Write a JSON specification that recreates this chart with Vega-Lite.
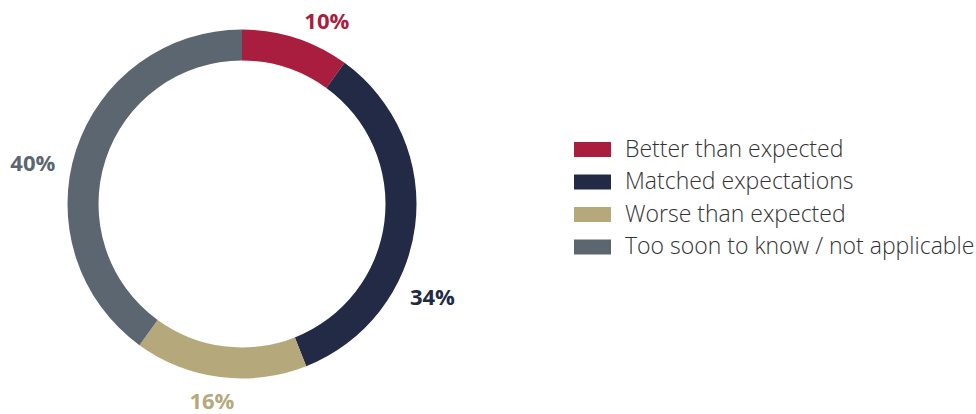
{
  "$schema": "https://vega.github.io/schema/vega-lite/v6.json",
  "width": 484,
  "height": 408,
  "autosize": {"type": "none"},
  "padding": {"left": 0, "top": 0, "right": 492, "bottom": 6},
  "background": "white",
  "config": {"view": {"stroke": null}},
  "data": {
    "values": [
      {"category": "Better than expected", "value": 10, "rank": 1, "label": "10%"},
      {"category": "Matched expectations", "value": 34, "rank": 2, "label": "34%"},
      {"category": "Worse than expected", "value": 16, "rank": 3, "label": "16%"},
      {"category": "Too soon to know / not applicable", "value": 40, "rank": 4, "label": "40%"}
    ]
  },
  "encoding": {
    "theta": {"field": "value", "type": "quantitative", "stack": true},
    "order": {"field": "rank", "type": "quantitative"},
    "color": {
      "field": "category",
      "type": "nominal",
      "scale": {
        "domain": ["Better than expected", "Matched expectations", "Worse than expected", "Too soon to know / not applicable"],
        "range": ["#A91E3F", "#222A46", "#B5A97C", "#5C6670"]
      },
      "legend": {
        "title": null,
        "orient": "none",
        "legendX": 581,
        "legendY": 138,
        "padding": 0,
        "symbolType": "M-2,-0.82H2V0.82H-2Z",
        "symbolSize": 342,
        "symbolStrokeWidth": 0,
        "symbolOpacity": 1,
        "labelFont": "Open Sans",
        "labelFontWeight": 300,
        "labelFontSize": 23,
        "labelColor": "#333333",
        "labelOffset": 21,
        "labelLimit": 500,
        "rowPadding": 8.5
      }
    }
  },
  "layer": [
    {"mark": {"type": "arc", "outerRadius": 174.5, "innerRadius": 143.5, "stroke": null}},
    {
      "mark": {"type": "text", "radius": 200, "dx": 23, "dy": 8, "font": "Open Sans", "fontWeight": "bold", "fontSize": 22, "align": "center", "baseline": "middle"},
      "encoding": {"text": {"condition": {"test": "datum.rank == 1", "field": "label"}, "value": ""}}
    },
    {
      "mark": {"type": "text", "radius": 200, "dx": -8, "dy": 69, "font": "Open Sans", "fontWeight": "bold", "fontSize": 22, "align": "center", "baseline": "middle"},
      "encoding": {"text": {"condition": {"test": "datum.rank == 2", "field": "label"}, "value": ""}}
    },
    {
      "mark": {"type": "text", "radius": 200, "dx": -5, "dy": 0, "font": "Open Sans", "fontWeight": "bold", "fontSize": 22, "align": "center", "baseline": "middle"},
      "encoding": {"text": {"condition": {"test": "datum.rank == 3", "field": "label"}, "value": ""}}
    },
    {
      "mark": {"type": "text", "radius": 200, "dx": -19, "dy": 22, "font": "Open Sans", "fontWeight": "bold", "fontSize": 22, "align": "center", "baseline": "middle"},
      "encoding": {"text": {"condition": {"test": "datum.rank == 4", "field": "label"}, "value": ""}}
    }
  ]
}
